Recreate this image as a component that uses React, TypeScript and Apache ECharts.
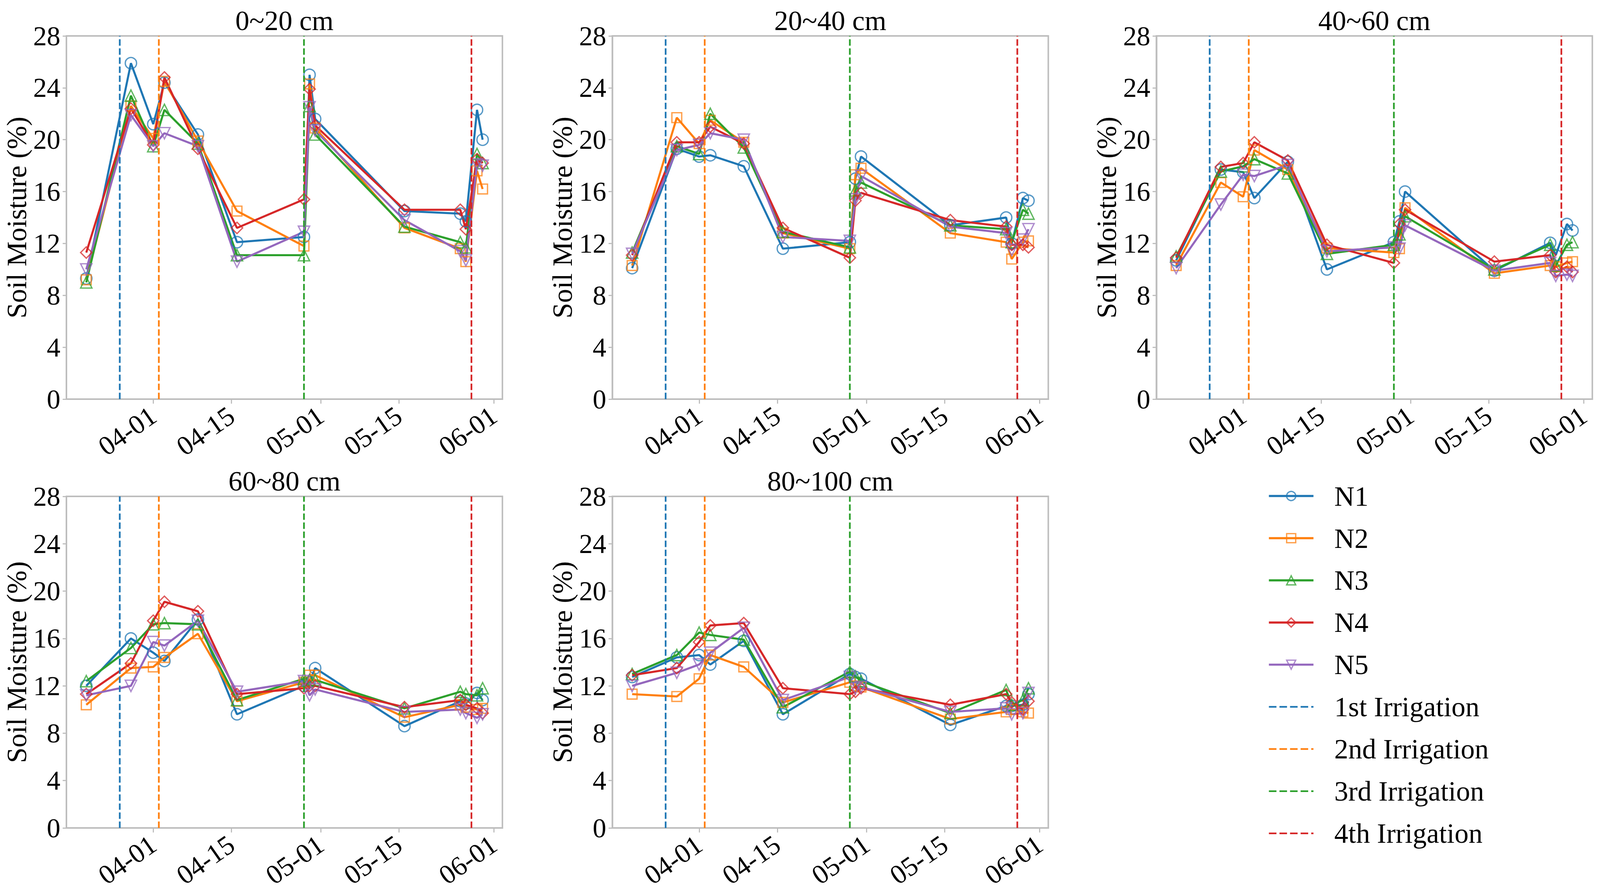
import React, { useEffect, useRef } from 'react';
import * as echarts from 'echarts';

const YEAR = 2023;
const FONT = 'Liberation Serif';
const DAY = 86400000;

// sampling dates (MM-DD)
const sampleDates = ['03-20', '03-28', '04-01', '04-03', '04-09', '04-16', '04-28', '04-29', '04-30', '05-16', '05-26', '05-27', '05-29', '05-30'];
const irrigationDates = ['03-26', '04-02', '04-28', '05-28'];
const irrigationNames = ['1st Irrigation', '2nd Irrigation', '3rd Irrigation', '4th Irrigation'];
const tickDates = ['04-01', '04-15', '05-01', '05-15', '06-01'];
const treatments = ['N1', 'N2', 'N3', 'N4', 'N5'];
const depths = ['0~20 cm', '20~40 cm', '40~60 cm', '60~80 cm', '80~100 cm'];

// soil moisture (%), one row per treatment N1..N5
const depth0to20 = [
  [9.3, 25.9, 21.2, 24.4, 20.4, 12.1, 12.5, 25.0, 21.6, 14.5, 14.3, 13.7, 22.3, 20.0],
  [9.2, 22.6, 20.1, 24.5, 19.9, 14.5, 11.8, 24.3, 20.9, 13.2, 11.6, 10.6, 17.6, 16.2],
  [9.0, 23.4, 19.5, 22.3, 19.7, 11.1, 11.1, 22.6, 20.4, 13.3, 12.1, 11.7, 18.9, 18.2],
  [11.3, 22.4, 19.6, 24.8, 19.3, 13.2, 15.4, 23.9, 21.1, 14.6, 14.6, 13.1, 18.5, 18.2],
  [10.0, 21.9, 19.5, 20.5, 19.5, 10.6, 12.9, 22.5, 20.7, 13.8, 11.4, 10.7, 18.1, 18.0],
];
const depth20to40 = [
  [10.1, 19.3, 18.7, 18.8, 17.95, 11.6, 12.1, 17.0, 18.7, 13.4, 14.0, 12.0, 15.5, 15.3],
  [10.3, 21.7, 19.7, 21.5, 19.8, 12.8, 11.6, 17.3, 17.8, 12.8, 12.1, 10.8, 12.1, 12.2],
  [11.3, 19.5, 18.9, 22.0, 19.4, 12.9, 11.7, 16.1, 16.7, 13.4, 13.1, 12.1, 14.6, 14.3],
  [11.1, 19.8, 19.8, 21.0, 19.7, 13.2, 10.9, 15.3, 15.9, 13.8, 13.3, 11.9, 11.9, 11.7],
  [11.2, 19.2, 19.6, 20.5, 20.0, 12.5, 12.2, 15.4, 17.2, 13.3, 12.8, 11.5, 12.3, 13.1],
];
const depth40to60 = [
  [10.7, 17.7, 17.5, 15.5, 18.3, 10.0, 12.1, 13.7, 16.0, 9.9, 12.05, 11.1, 13.5, 13.0],
  [10.3, 16.7, 15.6, 19.2, 17.7, 11.65, 11.3, 11.6, 14.75, 9.7, 10.3, 10.2, 10.5, 10.6],
  [11.0, 17.55, 17.95, 18.5, 17.4, 11.2, 11.9, 12.7, 14.1, 10.0, 11.9, 10.3, 11.9, 12.1],
  [10.9, 17.9, 18.2, 19.8, 18.4, 11.9, 10.5, 13.5, 14.6, 10.6, 11.1, 9.8, 10.2, 9.8],
  [10.1, 15.0, 17.3, 17.2, 18.05, 11.4, 11.7, 11.6, 13.4, 9.9, 10.5, 9.5, 9.6, 9.5],
];
const depth60to80 = [
  [12.0, 16.0, 14.8, 14.1, 17.6, 9.6, 12.0, 12.3, 13.5, 8.6, 10.7, 10.5, 11.4, 10.8],
  [10.4, 13.5, 13.6, 14.4, 16.4, 10.7, 12.3, 12.9, 12.9, 9.35, 10.4, 10.2, 10.0, 10.1],
  [12.4, 15.2, 17.2, 17.3, 17.2, 10.8, 12.6, 12.5, 12.5, 10.1, 11.5, 11.3, 11.2, 11.8],
  [11.3, 13.9, 17.5, 19.1, 18.3, 11.3, 11.8, 12.0, 12.0, 10.2, 10.8, 10.4, 10.1, 9.7],
  [11.2, 12.0, 15.7, 15.4, 17.5, 11.5, 12.4, 11.2, 11.7, 9.8, 10.0, 9.7, 9.3, 9.6],
];
const depth80to100 = [
  [12.75, 14.4, 14.6, 13.8, 15.8, 9.6, 13.0, 12.75, 12.6, 8.7, 10.3, 10.3, 10.4, 11.3],
  [11.3, 11.1, 12.6, 14.6, 13.6, 10.6, 12.3, 12.0, 11.9, 9.2, 9.8, 10.0, 9.8, 9.7],
  [13.0, 14.6, 16.5, 16.3, 15.9, 10.2, 13.2, 12.8, 12.4, 9.7, 11.65, 10.4, 10.8, 11.8],
  [12.9, 13.5, 15.7, 17.1, 17.3, 11.8, 11.3, 11.5, 11.8, 10.4, 11.3, 10.6, 10.0, 10.7],
  [12.0, 13.1, 13.8, 14.8, 16.9, 10.8, 12.75, 11.8, 11.9, 9.8, 10.1, 9.6, 9.7, 11.4],
];
const depthValues = [depth0to20, depth20to40, depth40to60, depth60to80, depth80to100];

const colors = ['#1f77b4', '#ff7f0e', '#2ca02c', '#d62728', '#9467bd'];
const markerColors = ['rgba(31,119,180,0.75)', 'rgba(255,127,14,0.75)', 'rgba(44,160,44,0.75)', 'rgba(214,39,40,0.75)', 'rgba(148,103,189,0.75)'];
const symbols = ['circle', 'rect', 'triangle', 'diamond', 'triangle'];
const symbolRotates = [0, 0, 0, 0, 180];

// panel layout, in px of a 4382 x 2284 page (scaled to the real size)
const REF_W = 4382;
const REF_H = 2284;
const gridLefts = [182, 1677, 3167, 182, 1677];
const gridTops = [92, 92, 92, 1271, 1271];
const gridHeights = [930, 930, 930, 849, 849];
const GRID_WIDTH = 1194;

// day number of a MM-DD date (days since 1970-01-01, UTC)
const toDay = (md: string) => {
  const [m, d] = md.split('-').map(Number);
  return Date.UTC(YEAR, m - 1, d) / DAY;
};
const fmtDay = (v: number) => {
  const d = new Date(Math.round(v) * DAY);
  return String(d.getUTCMonth() + 1).padStart(2, '0') + '-' + String(d.getUTCDate()).padStart(2, '0');
};

const App: React.FC = () => {
  const chartRef = useRef<HTMLDivElement>(null);

  useEffect(() => {
    if (!chartRef.current) return undefined;
    const chart = echarts.init(chartRef.current, undefined, { renderer: 'svg' });
    const sx = chart.getWidth() / REF_W;
    const sy = chart.getHeight() / REF_H;
    const k = Math.sqrt(sx * sy);

    const days = sampleDates.map(toDay);
    const first = Math.min(...days);
    const last = Math.max(...days);
    const pad = (last - first) * 0.05;
    const ticks = tickDates.map(toDay);
    const gray = '#bdbdbd';

    const grid = depths.map((_, g) => ({
      left: gridLefts[g] * sx,
      top: gridTops[g] * sy,
      width: GRID_WIDTH * sx,
      height: gridHeights[g] * sy,
      show: true,
      borderColor: gray,
      borderWidth: 4 * k,
      backgroundColor: 'transparent',
    }));

    const xAxis = depths.map((_, g) => ({
      type: 'value',
      gridIndex: g,
      min: first - pad,
      max: last + pad,
      splitLine: { show: false },
      axisLine: { show: true, lineStyle: { color: gray, width: 4 * k } },
      axisTick: { show: true, length: 12 * k, lineStyle: { color: gray, width: 3 * k }, customValues: ticks },
      axisLabel: {
        customValues: ticks,
        formatter: (v: number) => fmtDay(v),
        rotate: 35,
        margin: 36 * k,
        fontFamily: FONT,
        fontSize: 72 * k,
        color: '#000',
      },
    }));

    const yAxis = depths.map((_, g) => ({
      type: 'value',
      gridIndex: g,
      min: 0,
      max: 28,
      interval: 4,
      name: 'Soil Moisture (%)',
      nameLocation: 'middle',
      nameGap: 95 * k,
      nameTextStyle: { fontFamily: FONT, fontSize: 74 * k, color: '#000' },
      splitLine: { show: false },
      axisLine: { show: true, lineStyle: { color: gray, width: 4 * k } },
      axisTick: { show: true, length: 10 * k, lineStyle: { color: gray, width: 3 * k } },
      axisLabel: { fontFamily: FONT, fontSize: 72 * k, color: '#000', margin: 16 * k },
    }));

    const title = depths.map((d, g) => ({
      text: d,
      left: (gridLefts[g] + GRID_WIDTH / 2) * sx,
      top: gridTops[g] * sy - 78 * k,
      textAlign: 'center',
      padding: 0,
      textStyle: { fontFamily: FONT, fontSize: 74 * k, fontWeight: 'normal', color: '#000' },
    }));

    const series: any[] = [];
    depthValues.forEach((rows, g) => {
      rows.forEach((vals, s) => {
        series.push({
          type: 'line',
          name: treatments[s],
          xAxisIndex: g,
          yAxisIndex: g,
          data: sampleDates.map((d, i) => [toDay(d), vals[i]]),
          symbol: symbols[s],
          symbolSize: (s === 1 ? 26 : 30) * k,
          symbolRotate: symbolRotates[s],
          showAllSymbol: true,
          lineStyle: { color: colors[s], width: 5.5 * k },
          itemStyle: { color: 'rgba(0,0,0,0)', borderColor: markerColors[s], borderWidth: 3.5 * k },
          z: 2,
        });
      });
      irrigationDates.forEach((d, j) => {
        series.push({
          type: 'line',
          name: irrigationNames[j],
          xAxisIndex: g,
          yAxisIndex: g,
          data: [[toDay(d), 0], [toDay(d), 28]],
          symbol: 'none',
          lineStyle: { color: colors[j], width: 4.5 * k, type: [17 * k, 7 * k] },
          itemStyle: { color: colors[j] },
          z: 3,
        });
      });
    });

    const options: any = {
      animation: false,
      backgroundColor: '#fff',
      title,
      grid,
      xAxis,
      yAxis,
      legend: {
        orient: 'vertical',
        left: 3467 * sx,
        top: 1229 * sy,
        itemWidth: 118 * k,
        itemHeight: 30 * k,
        itemGap: 105.6 * sy - 72 * k,
        selectedMode: false,
        lineStyle: { width: 5.5 * k },
        itemStyle: { borderWidth: 3.5 * k },
        textStyle: { fontFamily: FONT, fontSize: 74 * k, color: '#000', lineHeight: 72 * k, padding: [0, 0, 0, 50 * k] },
        data: [
          ...treatments,
          ...irrigationNames.map((n) => ({ name: n, itemStyle: { opacity: 0 }, lineStyle: { width: 4.5 * k, type: [20 * k, 8 * k] } })),
        ],
      },
      series,
    };
    chart.setOption(options);

    return () => {
      chart.dispose();
    };
  }, []);

  return <div ref={chartRef} style={{ position: 'fixed', left: 0, top: 0, width: '100vw', height: '100vh' }} />;
};

export default App;
